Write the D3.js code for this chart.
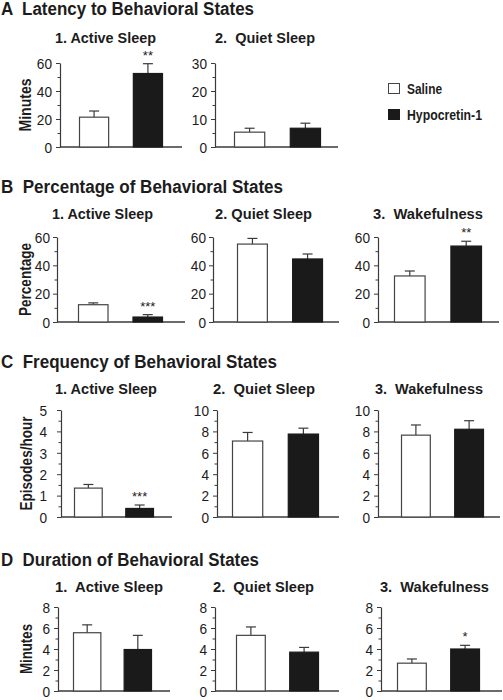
<!DOCTYPE html>
<html>
<head>
<meta charset="utf-8">
<script src="https://cdn.jsdelivr.net/npm/d3@7"></script>
<style>
  html, body { margin: 0; padding: 0; background: #fff; }
  svg { display: block; }
  text { font-family: "Liberation Sans Narrow", "Arial Narrow", "Liberation Sans", sans-serif; fill: #1c1c1c; white-space: pre; }
</style>
</head>
<body>
<script>
// ---------------- DATA ----------------
const groups = ["Saline", "Hypocretin-1"];
const sectionTitles = [
  "A  Latency to Behavioral States",
  "B  Percentage of Behavioral States",
  "C  Frequency of Behavioral States",
  "D  Duration of Behavioral States"
];
const yAxisLabels = ["Minutes", "Percentage", "Episodes/hour", "Minutes"];

// A: Latency (minutes)
const latencyStates = ["1. Active Sleep", "2.  Quiet Sleep"];
const latencySaline = [21.3, 5.3];
const latencySalineSem = [4.4, 1.4];
const latencyHcrt = [52.5, 6.7];
const latencyHcrtSem = [7.0, 1.8];
const latencyStars = ["**", ""];
const latencyTicks = [[0, 20, 40, 60], [0, 10, 20, 30]];

// B: Percentage
const percentStates = ["1. Active Sleep", "2. Quiet Sleep", "3.  Wakefulness"];
const percentSaline = [12.2, 55.0, 32.5];
const percentSalineSem = [1.3, 4.0, 3.5];
const percentHcrt = [3.5, 44.5, 53.6];
const percentHcrtSem = [1.7, 3.5, 3.4];
const percentStars = ["***", "", "**"];
const percentTicks = [[0, 20, 40, 60], [0, 20, 40, 60], [0, 20, 40, 60]];

// C: Frequency (episodes/hour)
const freqStates = ["1. Active Sleep", "2.  Quiet Sleep", "3.  Wakefulness"];
const freqSaline = [1.35, 7.1, 7.65];
const freqSalineSem = [0.17, 0.8, 0.95];
const freqHcrt = [0.4, 7.75, 8.2];
const freqHcrtSem = [0.16, 0.55, 0.8];
const freqStars = ["***", "", ""];
const freqTicks = [[0, 1, 2, 3, 4, 5], [0, 2, 4, 6, 8, 10], [0, 2, 4, 6, 8, 10]];

// D: Duration (minutes)
const durStates = ["1.  Active Sleep", "2.  Quiet Sleep", "3.  Wakefulness"];
const durSaline = [5.55, 5.3, 2.65];
const durSalineSem = [0.75, 0.8, 0.4];
const durHcrt = [3.95, 3.7, 4.0];
const durHcrtSem = [1.35, 0.45, 0.35];
const durStars = ["", "", "*"];
const durTicks = [[0, 2, 4, 6, 8], [0, 2, 4, 6, 8], [0, 2, 4, 6, 8]];

// ---------------- LAYOUT ----------------
const W = 503, H = 700;
const sections = [
  { states: latencyStates, sal: latencySaline, salE: latencySalineSem, hc: latencyHcrt, hcE: latencyHcrtSem, stars: latencyStars, ticks: latencyTicks,
    titleY: 15, titleW: 253, subY: 43, top: 63, bot: 147,
    panels: [
      { ax: 60, ae: 182, b0: 79, b1: 163, sx: 55, sw: 101, pad: 4 },
      { ax: 215, ae: 338, b0: 234, b1: 321, sx: 215, sw: 100, pad: 4 }
    ], ylab: { x: 25, w: 53 } },
  { states: percentStates, sal: percentSaline, salE: percentSalineSem, hc: percentHcrt, hcE: percentHcrtSem, stars: percentStars, ticks: percentTicks,
    titleY: 193, titleW: 282, subY: 219, top: 237, bot: 322,
    panels: [
      { ax: 57, ae: 185, b0: 78, b1: 163, sx: 52, sw: 101, pad: 3 },
      { ax: 213, ae: 339, b0: 237, b1: 323, sx: 215, sw: 97, pad: 3 },
      { ax: 378, ae: 499, b0: 394, b1: 482, sx: 373, sw: 110, pad: 4 }
    ], ylab: { x: 25, w: 73 } },
  { states: freqStates, sal: freqSaline, salE: freqSalineSem, hc: freqHcrt, hcE: freqHcrtSem, stars: freqStars, ticks: freqTicks,
    titleY: 368, titleW: 276, subY: 394, top: 410, bot: 517,
    panels: [
      { ax: 61, ae: 172, b0: 74, b1: 154, sx: 55, sw: 102, pad: 10 },
      { ax: 217, ae: 339, b0: 232, b1: 319, sx: 213, sw: 102, pad: 4 },
      { ax: 378, ae: 500, b0: 401, b1: 484, sx: 375, sw: 108, pad: 4 }
    ], ylab: { x: 26, w: 94 } },
  { states: durStates, sal: durSaline, salE: durSalineSem, hc: durHcrt, hcE: durHcrtSem, stars: durStars, ticks: durTicks,
    titleY: 566, titleW: 258, subY: 592, top: 607, bot: 691,
    panels: [
      { ax: 58, ae: 170, b0: 73, b1: 152, sx: 55, sw: 108, pad: 4 },
      { ax: 215, ae: 339, b0: 236, b1: 319, sx: 213, sw: 101, pad: 4 },
      { ax: 381, ae: 502, b0: 397, b1: 480, sx: 380, sw: 109, pad: 4 }
    ], ylab: { x: 26, w: 50 } }
];

const axisColor = "#3a3a3a";
const fills = ["#ffffff", "#1a1a1a"];
const tickFont = 15.5;
const digitW = 7.6;

const svg = d3.select("body").append("svg").attr("width", W).attr("height", H);

sections.forEach((sec, si) => {
  svg.append("text")
    .attr("x", 1).attr("y", sec.titleY)
    .attr("font-size", 18).attr("font-weight", "bold")
    .attr("textLength", sec.titleW).attr("lengthAdjust", "spacingAndGlyphs")
    .text(sectionTitles[si]);

  // y axis label (rotated), centered on the first panel's plot area
  const midY = (sec.top + sec.bot) / 2;
  svg.append("text")
    .attr("transform", `translate(${sec.ylab.x + 6},${midY}) rotate(-90)`)
    .attr("text-anchor", "middle")
    .attr("font-size", 16).attr("font-weight", "bold")
    .attr("textLength", sec.ylab.w).attr("lengthAdjust", "spacingAndGlyphs")
    .text(yAxisLabels[si]);

  sec.panels.forEach((p, pi) => {
    const ticks = sec.ticks[pi];
    const maxV = ticks[ticks.length - 1];
    const step = ticks[1] - ticks[0];
    const y = d3.scaleLinear().domain([0, maxV]).range([sec.bot, sec.top]);
    const x = d3.scaleBand().domain(groups).range([p.b0, p.b1]).paddingInner(0.44).paddingOuter(0);
    const g = svg.append("g");

    // subtitle
    svg.append("text")
      .attr("x", p.sx).attr("y", sec.subY)
      .attr("font-size", 15).attr("font-weight", "bold")
      .attr("textLength", p.sw).attr("lengthAdjust", "spacingAndGlyphs")
      .text(sec.states[pi]);

    // minor ticks
    const minor = d3.range(step / 2, maxV, step);
    const minorAxis = d3.axisLeft(y).tickValues(minor).tickSize(2.5).tickFormat("").tickSizeOuter(0);
    g.append("g").attr("transform", `translate(${p.ax},0)`).call(minorAxis)
      .call(s => s.select(".domain").remove())
      .call(s => s.selectAll("line").attr("stroke", axisColor));

    // major axis
    const yAxis = d3.axisLeft(y).tickValues(ticks).tickSize(4).tickSizeOuter(0).tickPadding(p.pad)
      .tickFormat(d3.format("d"));
    const ag = g.append("g").attr("transform", `translate(${p.ax},0)`).call(yAxis);
    ag.select(".domain").attr("stroke", axisColor).attr("stroke-width", 1.2);
    ag.selectAll(".tick line").attr("stroke", axisColor);
    ag.selectAll(".tick text")
      .attr("font-family", '"Liberation Sans Narrow", "Arial Narrow", "Liberation Sans", sans-serif')
      .attr("font-size", tickFont).attr("fill", "#222")
      .attr("dy", "0.34em")
      .each(function () {
        const t = d3.select(this);
        t.attr("textLength", t.text().length * digitW).attr("lengthAdjust", "spacingAndGlyphs");
      });

    // baseline
    g.append("line")
      .attr("x1", p.ax).attr("x2", p.ae)
      .attr("y1", y(0)).attr("y2", y(0))
      .attr("stroke", axisColor).attr("stroke-width", 1.4);

    const means = [sec.sal[pi], sec.hc[pi]];
    const sems = [sec.salE[pi], sec.hcE[pi]];
    const rows = groups.map((gname, k) => ({ g: gname, v: means[k], e: sems[k], k }));

    // error bars (upward only)
    rows.forEach(r => {
      const cx = x(r.g) + x.bandwidth() / 2;
      g.append("line").attr("x1", cx).attr("x2", cx)
        .attr("y1", y(r.v)).attr("y2", y(r.v + r.e))
        .attr("stroke", axisColor).attr("stroke-width", 1.2);
      g.append("line").attr("x1", cx - 5).attr("x2", cx + 5)
        .attr("y1", y(r.v + r.e)).attr("y2", y(r.v + r.e))
        .attr("stroke", axisColor).attr("stroke-width", 1.2);
    });

    // bars
    g.selectAll("rect.bar").data(rows).join("rect")
      .attr("class", "bar")
      .attr("x", d => x(d.g) + 0.5)
      .attr("y", d => y(d.v))
      .attr("width", x.bandwidth() - 1)
      .attr("height", d => y(0) - y(d.v))
      .attr("fill", d => fills[d.k])
      .attr("stroke", d => d.k === 0 ? "#444" : "#1a1a1a")
      .attr("stroke-width", 1.2);

    // significance stars
    const star = sec.stars[pi];
    if (star) {
      const r = rows[1];
      svg.append("text")
        .attr("x", x(r.g) + x.bandwidth() / 2)
        .attr("y", y(r.v + r.e) - 4)
        .attr("text-anchor", "middle")
        .attr("font-size", 13)
        .attr("font-family", '"Liberation Sans", sans-serif')
        .text(star);
    }
  });
});

// legend
const legendW = [35, 75];
const legend = svg.append("g");
groups.forEach((gname, k) => {
  const yy = 83 + k * 26;
  legend.append("rect").attr("x", 388.5).attr("y", yy + 0.5).attr("width", 11).attr("height", 10)
    .attr("fill", fills[k]).attr("stroke", k === 0 ? "#444" : "#1a1a1a").attr("stroke-width", 1);
  legend.append("text").attr("x", 407).attr("y", yy + 10.5)
    .attr("font-size", 14.5).attr("font-weight", "bold")
    .attr("textLength", legendW[k]).attr("lengthAdjust", "spacingAndGlyphs")
    .text(gname);
});
</script>
</body>
</html>
